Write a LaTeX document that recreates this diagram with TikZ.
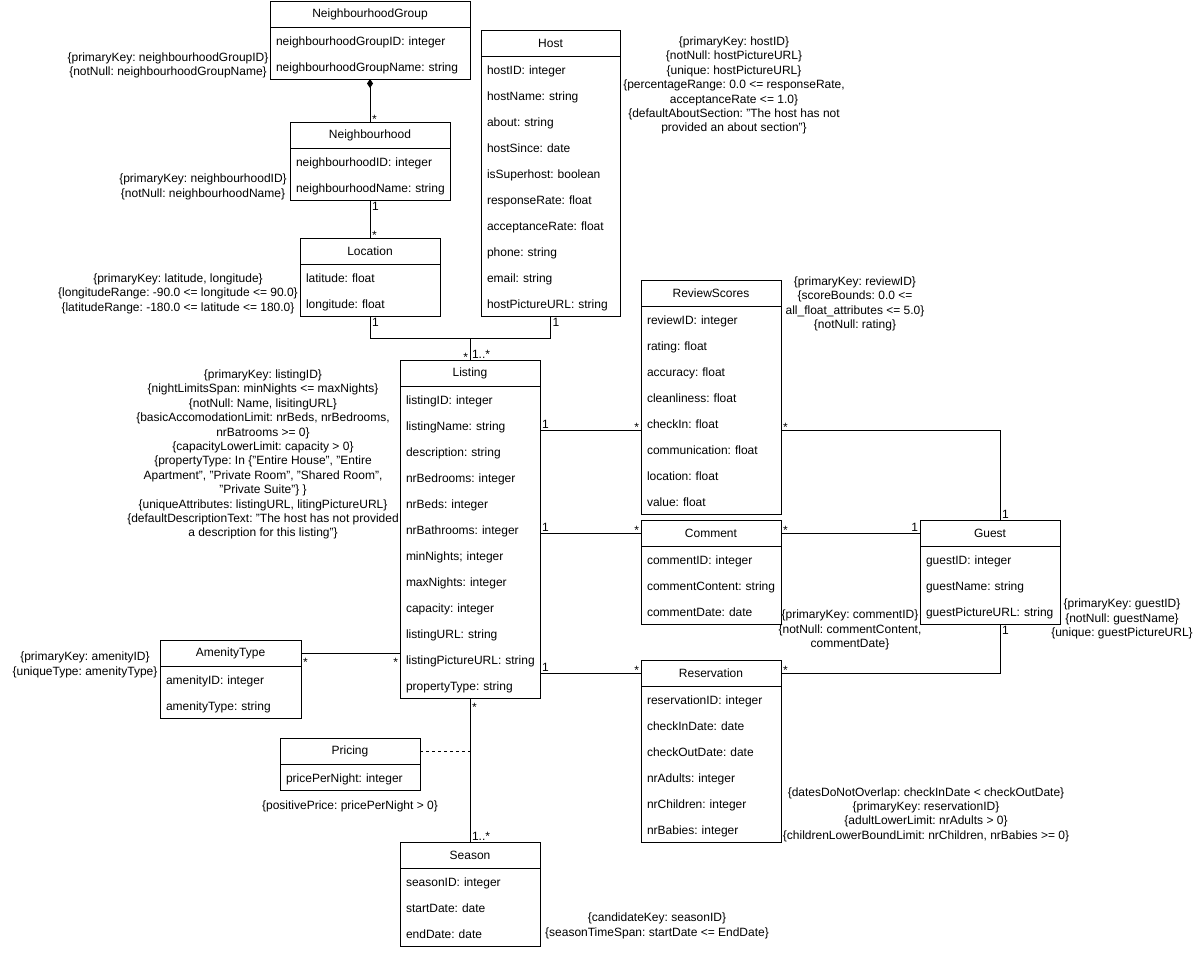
\documentclass[tikz,border=0pt]{standalone}
\usepackage{fontspec}
\setmainfont{Liberation Sans}
\usetikzlibrary{positioning, calc, arrows.meta}
\frenchspacing
\newcommand{\attrlist}[1]{\begin{tabular}{@{}l@{}}#1\end{tabular}}

\begin{document}
\begin{tikzpicture}[
        x=1pt, y=-1pt, line width=1pt,
        clshead/.style={rectangle, draw, anchor=north west, minimum height=26pt, inner sep=0pt, outer sep=0pt, font=\fontsize{12}{14}\selectfont},
        clsbody/.style={rectangle, draw, inner xsep=6pt, inner ysep=0pt, outer sep=0pt, align=left, font=\fontsize{12}{26}\selectfont},
        note/.style={align=center, inner sep=0pt, font=\fontsize{12}{14.4}\selectfont},
        mult/.style={inner sep=1.5pt, font=\fontsize{12}{14}\selectfont},
        star/.style={mult, yshift=-3pt},
        compo/.style={{Diamond[length=9pt, width=6pt]}-},
    ]
        \useasboundingbox (0,0) rectangle (1203,962);

        % Location chain
        \node[clshead, minimum width=200pt] (ngh) at (270,1) {NeighbourhoodGroup};
        \node[clsbody, text width=188pt, minimum height=52pt, below=0pt of ngh] (ngb) {\attrlist{neighbourhoodGroupID: integer\\neighbourhoodGroupName: string}};

        \node[clshead, minimum width=160pt] (nhh) at (290,122) {Neighbourhood};
        \node[clsbody, text width=148pt, minimum height=52pt, below=0pt of nhh] (nhb) {\attrlist{neighbourhoodID: integer\\neighbourhoodName: string}};

        \node[clshead, minimum width=140pt] (loch) at (300,238) {Location};
        \node[clsbody, text width=128pt, minimum height=52pt, below=0pt of loch] (locb) {\attrlist{latitude: float\\longitude: float}};

        % Host and listing
        \node[clshead, minimum width=139pt] (hosth) at (481,30) {Host};
        \node[clsbody, text width=127pt, minimum height=260pt, below=0pt of hosth] (hostb) {\attrlist{hostID: integer\\hostName: string\\about: string\\hostSince: date\\isSuperhost: boolean\\responseRate: float\\acceptanceRate: float\\phone: string\\email: string\\hostPictureURL: string}};

        \node[clshead, minimum width=140pt] (lsth) at (400,360) {Listing};
        \node[clsbody, text width=128pt, minimum height=312pt, below=0pt of lsth] (lstb) {\attrlist{listingID: integer\\listingName: string\\description: string\\nrBedrooms: integer\\nrBeds: integer\\nrBathrooms: integer\\minNights; integer\\maxNights: integer\\capacity: integer\\listingURL: string\\listingPictureURL: string\\propertyType: string}};

        \node[clshead, minimum width=141pt] (amh) at (160,640) {AmenityType};
        \node[clsbody, text width=129pt, minimum height=52pt, below=0pt of amh] (amb) {\attrlist{amenityID: integer\\amenityType: string}};

        \node[clshead, minimum width=140pt] (prh) at (280,738) {Pricing};
        \node[clsbody, text width=128pt, minimum height=26pt, below=0pt of prh] (prb) {\attrlist{pricePerNight: integer}};

        \node[clshead, minimum width=140pt] (ssnh) at (400,842) {Season};
        \node[clsbody, text width=128pt, minimum height=78pt, below=0pt of ssnh] (ssnb) {\attrlist{seasonID: integer\\startDate: date\\endDate: date}};

        % Reviews and guests
        \node[clshead, minimum width=140pt] (rsh) at (641,280) {ReviewScores};
        \node[clsbody, text width=128pt, minimum height=208pt, below=0pt of rsh] (rsb) {\attrlist{reviewID: integer\\rating: float\\accuracy: float\\cleanliness: float\\checkIn: float\\communication: float\\location: float\\value: float}};

        \node[clshead, minimum width=140pt] (comh) at (641,520) {Comment};
        \node[clsbody, text width=128pt, minimum height=78pt, below=0pt of comh] (comb) {\attrlist{commentID: integer\\commentContent: string\\commentDate: date}};

        \node[clshead, minimum width=140pt] (gsth) at (920,520) {Guest};
        \node[clsbody, text width=128pt, minimum height=78pt, below=0pt of gsth] (gstb) {\attrlist{guestID: integer\\guestName: string\\guestPictureURL: string}};

        \node[clshead, minimum width=140pt] (resh) at (641,660) {Reservation};
        \node[clsbody, text width=128pt, minimum height=156pt, below=0pt of resh] (resb) {\attrlist{reservationID: integer\\checkInDate: date\\checkOutDate: date\\nrAdults: integer\\nrChildren: integer\\nrBabies: integer}};

        % Constraints
        \node[note] (ngnote) at (168,65.5) {\{primaryKey: neighbourhoodGroupID\}\\\{notNull: neighbourhoodGroupName\}};
        \node[note] (nhnote) at (203,187) {\{primaryKey: neighbourhoodID\}\\\{notNull: neighbourhoodName\}};
        \node[note] (locnote) at (178,293.5) {\{primaryKey: latitude, longitude\}\\\{longitudeRange: -90.0 <= longitude <= 90.0\}\\\{latitudeRange: -180.0 <= latitude <= 180.0\}};
        \node[note] (hostnote) at (734,85.5) {\{primaryKey: hostID\}\\\{notNull: hostPictureURL\}\\\{unique: hostPictureURL\}\\\{percentageRange: 0.0 <= responseRate,\\acceptanceRate <= 1.0\}\\\{defaultAboutSection: "The host has not\\provided an about section"\}};
        \node[note] (rsnote) at (855,304) {\{primaryKey: reviewID\}\\\{scoreBounds: 0.0 <=\\all\_float\_attributes <= 5.0\}\\\{notNull: rating\}};
        \node[note] (lstnote) at (263,454.5) {\{primaryKey: listingID\}\\\{nightLimitsSpan: minNights <= maxNights\}\\\{notNull: Name, lisitingURL\}\\\{basicAccomodationLimit: nrBeds, nrBedrooms,\\nrBatrooms >= 0\}\\\{capacityLowerLimit: capacity > 0\}\\\{propertyType: In \{"Entire House", "Entire\\Apartment", "Private Room", "Shared Room",\\"Private Suite"\} \}\\\{uniqueAttributes: listingURL, litingPictureURL\}\\\{defaultDescriptionText: "The host has not provided\\a description for this listing"\}};
        \node[note] (amnote) at (85,665) {\{primaryKey: amenityID\}\\\{uniqueType: amenityType\}};
        \node[note] (comnote) at (850,630) {\{primaryKey: commentID\}\\\{notNull: commentContent,\\commentDate\}};
        \node[note] (gstnote) at (1122,619) {\{primaryKey: guestID\}\\\{notNull: guestName\}\\\{unique: guestPictureURL\}};
        \node[note] (resnote) at (926,814.5) {\{datesDoNotOverlap: checkInDate < checkOutDate\}\\\{primaryKey: reservationID\}\\\{adultLowerLimit: nrAdults > 0\}\\\{childrenLowerBoundLimit: nrChildren, nrBabies >= 0\}};
        \node[note] (prnote) at (350,806) {\{positivePrice: pricePerNight > 0\}};
        \node[note] (ssnnote) at (657,926) {\{candidateKey: seasonID\}\\\{seasonTimeSpan: startDate <= EndDate\}};

        % Associations
        \coordinate (jn) at (470,338);

        \draw[compo] (ngb.south) -- (nhh.north) node[star, pos=1, anchor=south west] {*};
        \draw (nhb.south) -- (loch.north) node[mult, pos=0, anchor=north west] {1} node[star, pos=1, anchor=south west] {*};
        \draw (locb.south) |- (jn) node[mult, pos=0, anchor=north west] {1};
        \draw (hostb.south) |- (jn) node[mult, pos=0, anchor=north west] {1};
        \draw (jn) -- (lsth.north) node[star, pos=1, anchor=south east] {*} node[mult, pos=1, anchor=south west] {1..*};

        \draw (lstb.east |- 0,430) -- (rsb.west |- 0,430) node[mult, pos=0, anchor=south west] {1} node[star, pos=1, anchor=south east] {*};
        \draw (lstb.east |- comh.west) -- (comh.west) node[mult, pos=0, anchor=south west] {1} node[star, pos=1, anchor=south east] {*};
        \draw (lstb.east |- resh.west) -- (resh.west) node[mult, pos=0, anchor=south west] {1} node[star, pos=1, anchor=south east] {*};

        \draw (rsb.east |- 0,430) -| ($(gsth.north)+(10,0)$) node[star, pos=0, anchor=south west] {*} node[mult, pos=1, anchor=south west] {1};
        \draw (comh.east) -- (gsth.west) node[star, pos=0, anchor=south west] {*} node[mult, pos=1, anchor=south east] {1};
        \draw ($(gstb.south)+(10,0)$) |- (resh.east) node[mult, pos=0, anchor=north west] {1} node[star, pos=1, anchor=south west] {*};

        \draw (amh.east) -- (lstb.west |- amh.east) node[star, pos=0, anchor=north west] {*} node[star, pos=1, anchor=north east] {*};
        \draw (lstb.south) -- (ssnh.north) node[star, pos=0, anchor=north west] {*} node[mult, pos=1, anchor=south west] {1..*};
        \draw[dashed] (prh.east) -- (prh.east -| lstb.south);

    \end{tikzpicture}
\end{document}
